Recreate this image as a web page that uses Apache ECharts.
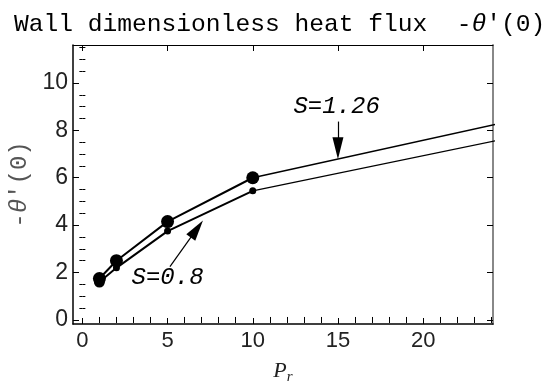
<!DOCTYPE html>
<html>
<head>
<meta charset="utf-8">
<script src="https://cdn.jsdelivr.net/npm/echarts@6/dist/echarts.min.js"></script>
<style>
html, body { margin: 0; padding: 0; background: #fff; }
#chart { width: 549px; height: 381px; }
</style>
</head>
<body>
<div id="chart"></div>
<script>
// values
const prPoints = [1, 2, 5, 10];
const fluxS126 = [1.75, 2.5, 4.15, 6.0];
const fluxS08 = [1.6, 2.2, 3.75, 5.45];
// straight continuation after Pr = 10, clipped by the frame
const prTail = [10, 25];
const tailS126 = [6.0, 8.37];
const tailS08 = [5.45, 7.67];

const xMajor = [0, 5, 10, 15, 20];
const xMinor = [1, 2, 3, 4, 6, 7, 8, 9, 11, 12, 13, 14, 16, 17, 18, 19, 21, 22, 23, 24];
const yMajor = [0, 2, 4, 6, 8, 10];
const yMinor = [0.5, 1, 1.5, 2.5, 3, 3.5, 4.5, 5, 5.5, 6.5, 7, 7.5, 8.5, 9, 9.5, 10.5, 11, 11.5];

const mono = 'Liberation Mono';
const sans = 'Liberation Sans';

const zip = (xs, ys) => xs.map((x, i) => [x, ys[i]]);

const xRange = { min: -0.55, max: 24.1 };
const yRange = { min: -0.17, max: 11.6 };

function frameAxis(position, ticks, len, line) {
    const isX = position === 'top' || position === 'bottom';
    return {
        type: 'value',
        position: position,
        min: isX ? xRange.min : yRange.min,
        max: isX ? xRange.max : yRange.max,
        axisLine: line ? { show: true, onZero: false, lineStyle: line } : { show: false },
        axisTick: { show: true, inside: true, length: len, customValues: ticks, lineStyle: { color: '#000', width: 1 } },
        axisLabel: { show: false },
        splitLine: { show: false }
    };
}

const chart = echarts.init(document.getElementById('chart'));

const option = {
    animation: false,
    backgroundColor: '#fff',
    title: {
        text: 'Wall dimensionless heat flux  -{t|θ}\'(0)',
        left: 9,
        top: 7,
        textStyle: {
            fontFamily: mono, fontSize: 24.6, fontWeight: 'normal', color: '#000',
            rich: { t: { fontFamily: mono, fontSize: 24.6, fontStyle: 'italic', color: '#000' } }
        }
    },
    grid: { left: 73, right: 56, top: 45, bottom: 57, containLabel: false, outerBoundsMode: 'none' },
    xAxis: [
        {
            type: 'value', position: 'bottom', min: xRange.min, max: xRange.max,
            axisLine: { show: true, onZero: false, lineStyle: { color: '#000', width: 1.5 } },
            axisTick: { show: true, inside: true, length: 6, customValues: xMajor, lineStyle: { color: '#000', width: 1 } },
            axisLabel: { customValues: xMajor, fontFamily: sans, fontSize: 22, color: '#222', margin: 6 },
            splitLine: { show: false },
            name: '{p|P}{s|r}',
            nameLocation: 'middle',
            nameGap: 34,
            nameTextStyle: {
                rich: {
                    p: { fontFamily: 'Liberation Serif', fontStyle: 'italic', fontSize: 22, color: '#222' },
                    s: { fontFamily: 'Liberation Serif', fontStyle: 'italic', fontSize: 15, color: '#222', padding: [12, 0, 0, 0] }
                }
            }
        },
        frameAxis('bottom', xMinor, 3, null),
        frameAxis('top', xMajor, 6, { color: '#000', width: 1 }),
        frameAxis('top', xMinor, 3, null)
    ],
    yAxis: [
        {
            type: 'value', position: 'left', min: yRange.min, max: yRange.max,
            axisLine: { show: true, onZero: false, lineStyle: { color: '#000', width: 1.5 } },
            axisTick: { show: true, inside: true, length: 6, customValues: yMajor, lineStyle: { color: '#000', width: 1 } },
            axisLabel: { customValues: yMajor, fontFamily: sans, fontSize: 23, color: '#222', margin: 5 },
            splitLine: { show: false },
            name: '-{t|θ}\'(0)',
            nameLocation: 'middle',
            nameRotate: 90,
            nameGap: 41,
            nameTextStyle: {
                fontFamily: mono, fontSize: 24, color: '#555',
                rich: { t: { fontFamily: mono, fontSize: 24, fontStyle: 'italic', color: '#555' } }
            }
        },
        frameAxis('left', yMinor, 3, null),
        frameAxis('right', yMajor, 6, { color: '#888', width: 2 }),
        frameAxis('right', yMinor, 3, null)
    ],
    series: [
        {
            name: 'S=1.26 tail',
            type: 'line',
            data: zip(prTail, tailS126),
            showSymbol: false,
            lineStyle: { color: '#000', width: 1.3 },
            markLine: {
                silent: true,
                symbol: ['none', 'triangle'],
                lineStyle: { color: '#000', width: 1.2, type: 'solid' },
                label: { show: false },
                data: [
                    [{ coord: [15, 8.37], symbol: 'none' }, { coord: [15, 7.24], symbol: 'triangle', symbolSize: [11, 22] }],
                    [{ coord: [5.14, 2.25], symbol: 'none' }, { coord: [6.72, 3.84], symbol: 'triangle', symbolSize: [11, 21] }]
                ]
            },
            markPoint: {
                silent: true,
                symbol: 'circle',
                symbolSize: 0,
                label: {
                    show: true, position: 'inside', formatter: '{b}',
                    fontFamily: mono, fontSize: 24, fontStyle: 'italic', color: '#000'
                },
                data: [
                    { name: 'S=1.26', coord: [14.92, 9.0] },
                    { name: 'S=0.8', coord: [5.0, 1.78] }
                ]
            }
        },
        {
            name: 'S=0.8 tail',
            type: 'line',
            data: zip(prTail, tailS08),
            showSymbol: false,
            lineStyle: { color: '#000', width: 1.3 }
        },
        {
            name: 'S=0.8',
            type: 'line',
            data: zip(prPoints, fluxS08),
            symbol: 'circle',
            symbolSize: (v, p) => (p.dataIndex === 0 ? 11 : 7),
            itemStyle: { color: '#000' },
            lineStyle: { color: '#000', width: 2 }
        },
        {
            name: 'S=1.26',
            type: 'line',
            data: zip(prPoints, fluxS126),
            symbol: 'circle',
            symbolSize: 13,
            itemStyle: { color: '#000' },
            lineStyle: { color: '#000', width: 2 }
        }
    ]
};

chart.setOption(option);
</script>
</body>
</html>
